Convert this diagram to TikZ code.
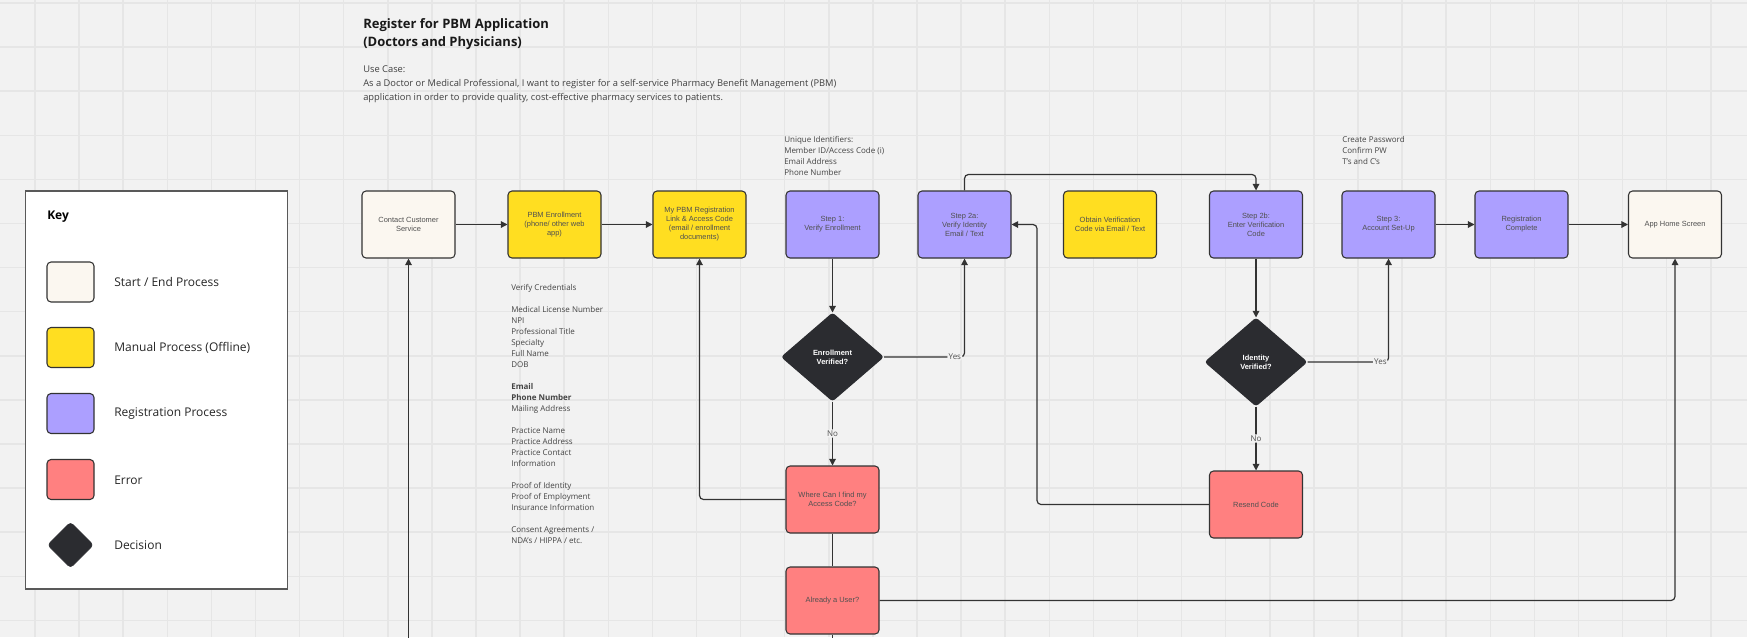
\documentclass[tikz,border=0pt]{standalone}
\usepackage{fontspec}
\setmainfont{Open Sans}
\newfontfamily\arialf{Liberation Sans}
\usetikzlibrary{arrows.meta,shapes.geometric}
\definecolor{bgc}{HTML}{F2F2F2}
\definecolor{gridc}{HTML}{E6E6E6}
\definecolor{creamc}{HTML}{FBF7F0}
\definecolor{yelc}{HTML}{FFDE21}
\definecolor{purc}{HTML}{AC9FFF}
\definecolor{redc}{HTML}{FF8080}
\definecolor{decc}{HTML}{2B2C30}
\definecolor{linec}{HTML}{333333}
\definecolor{txtc}{HTML}{505050}
\definecolor{notec}{HTML}{444444}
\tikzset{
 conn/.style={draw=linec, line width=0.9pt, rounded corners=3pt},
 arr/.style={conn, -{Triangle[length=5pt,width=5pt]}},
 proc/.style={draw=linec, line width=0.8pt, rounded corners=3pt, minimum width=69.75pt, minimum height=50.25pt, inner sep=0pt, align=center, text=txtc, font=\arialf\fontsize{5.6pt}{6.75pt}\selectfont},
 startend/.style={proc, fill=creamc},
 manual/.style={proc, fill=yelc},
 regp/.style={proc, fill=purc},
 errp/.style={proc, fill=redc},
 decision/.style={diamond, fill=decc, draw=decc, line width=0.8pt, rounded corners=2pt, minimum width=76.5pt, minimum height=66pt, inner sep=0pt, align=center, text=white, font=\arialf\bfseries\fontsize{5.6pt}{6.75pt}\selectfont},
 lbl/.style={fill=bgc, inner sep=1pt, text=txtc, font=\fontsize{6pt}{7pt}\selectfont},
 note/.style={anchor=west, align=left, inner sep=0pt, text=notec, font=\fontsize{6pt}{8.25pt}\selectfont},
 swatch/.style={draw=linec, line width=0.8pt, rounded corners=3pt, minimum width=35.25pt, minimum height=30pt, inner sep=0pt},
 keylabel/.style={anchor=west, inner sep=0pt, text=black!85, font=\fontsize{9pt}{11pt}\selectfont},
 gridl/.style={draw=gridc, line width=1.1pt},
}
\begin{document}
\begin{tikzpicture}[x=0.75pt,y=-0.75pt]
\fill[bgc] (0,0) rectangle (1747,637);
\useasboundingbox (0,0) rectangle (1747,637);
\foreach \i in {0,...,39} \draw[gridl] ({35+44.1*\i},0) -- ({35+44.1*\i},637);
\foreach \j in {0,...,14} \draw[gridl] (0,{3+44.1*\j}) -- (1747,{3+44.1*\j});

% title and use case
\node[anchor=west, align=left, inner sep=0pt, text=black!90, font=\bfseries\fontsize{9.75pt}{13.5pt}\selectfont] (title) at (363,34) {Register for PBM Application\\(Doctors and Physicians)};
\node[anchor=west, align=left, inner sep=0pt, text=black!75, font=\fontsize{7pt}{10.5pt}\selectfont] (usecase) at (363,84.5) {Use Case:\\As a Doctor or Medical Professional, I want to register for a self-service Pharmacy Benefit Management (PBM)\\application in order to provide quality, cost-effective pharmacy services to patients.};

% key
\node[draw=black!65, fill=white, line width=0.8pt, minimum width=196pt, minimum height=298.5pt, inner sep=0pt] (key) at (156.4,390) {};
\node[anchor=west, inner sep=0pt, font=\bfseries\fontsize{9pt}{11pt}\selectfont] (keyt) at (47,217) {Key};
\node[swatch, fill=creamc] (k1) at (70.5,282) {};
\node[swatch, fill=yelc] (k2) at (70.5,347.5) {};
\node[swatch, fill=purc] (k3) at (70.5,413.5) {};
\node[swatch, fill=redc] (k4) at (70.5,479.5) {};
\node[diamond, fill=decc, draw=decc, rounded corners=2.5pt, minimum size=34.5pt, inner sep=0pt] (k5) at (70.5,545) {};
\node[keylabel] (l1) at (114,282) {Start / End Process};
\node[keylabel] (l2) at (114,348) {Manual Process (Offline)};
\node[keylabel] (l3) at (114,414) {Registration Process};
\node[keylabel] (l4) at (114,480) {Error};
\node[keylabel] (l5) at (114,545) {Decision};

% notes
\node[note] (cred) at (511,413.5) {Verify Credentials\\ ~\\Medical License Number\\NPI\\Professional Title\\Specialty\\Full Name\\DOB\\ ~\\\textbf{Email}\\\textbf{Phone Number}\\Mailing Address\\ ~\\Practice Name\\Practice Address\\Practice Contact\\Information\\ ~\\Proof of Identity\\Proof of Employment\\Insurance Information\\ ~\\Consent Agreements /\\NDA's / HIPPA / etc.};
\node[note] (uid) at (784,156) {Unique Identifiers:\\Member ID/Access Code (i)\\Email Address\\Phone Number};
\node[note] (pw) at (1342,150) {Create Password\\Confirm PW\\T's and C's};

% main row
\node[startend] (cs) at (408.5,224.5) {Contact Customer\\Service};
\node[manual] (pbm) at (554.5,224.5) {PBM Enrollment\\(phone/ other web\\app)};
\node[manual] (mypbm) at (699.5,224.5) {My PBM Registration\\Link \& Access Code\\(email / enrollment\\documents)};
\node[regp] (s1) at (832.5,224.5) {Step 1:\\Verify Enrollment};
\node[regp] (s2a) at (964.5,224.5) {Step 2a:\\Verify Identity\\Email / Text};
\node[manual] (obt) at (1110,224.5) {Obtain Verification\\Code via Email / Text};
\node[regp] (s2b) at (1256,224.5) {Step 2b:\\Enter Verification\\Code};
\node[regp] (s3) at (1388.5,224.5) {Step 3:\\Account Set-Up};
\node[regp] (rc) at (1521.5,224.5) {Registration\\Complete};
\node[startend] (app) at (1675,224.5) {App Home Screen};

\node[decision] (dE) at (832.5,357) {Enrollment\\Verified?};
\node[decision] (dI) at (1256,362) {Identity\\Verified?};
\node[errp] (where) at (832.5,499.5) {Where Can I find my\\Access Code?};
\node[errp] (already) at (832.5,600.5) {Already a User?};
\node[errp] (resend) at (1256,504.5) {Resend Code};

\coordinate (csin) at (408.5,640);
\coordinate (alout) at (832.5,640);
\coordinate (rsb) at (1037,0);

% connectors
\draw[arr] (csin) -- (cs.south);
\draw[arr] (cs) -- (pbm);
\draw[arr] (pbm) -- (mypbm);
\draw[arr] (s1.south) -- (dE.north);
\draw[arr] (dE.east) -| node[lbl, pos=0.44] {Yes} (s2a.south);
\draw[arr] (dE.south) -- node[lbl] {No} (where.north);
\draw[arr] (where.west) -| (mypbm.south);
\draw[conn] (where.south) -- (already.north);
\draw[conn] (already.south) -- (alout);
\draw[arr] (already.east) -| (app.south);
\draw[arr] (s2a.north) -- ++(0,-16) -| (s2b.north);
\draw[arr] (s2b.south) -- (dI.north);
\draw[arr] (dI.east) -| node[lbl, pos=0.45] {Yes} (s3.south);
\draw[arr] (dI.south) -- node[lbl] {No} (resend.north);
\draw[arr] (resend.west) -| (rsb |- s2a.east) -- (s2a.east);
\draw[arr] (s3) -- (rc);
\draw[arr] (rc) -- (app);
\end{tikzpicture}
\end{document}
